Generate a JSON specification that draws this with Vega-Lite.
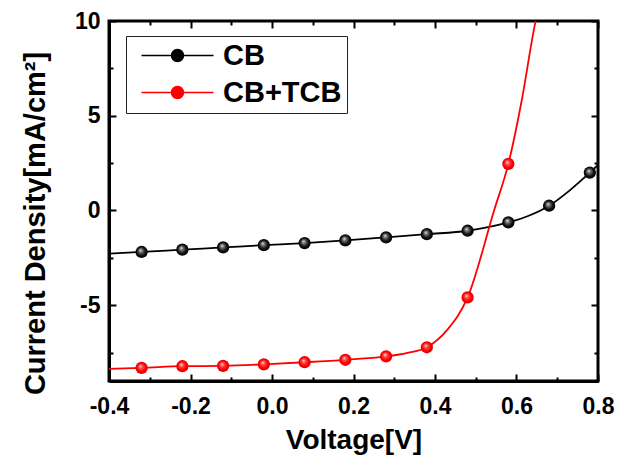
{
  "$schema": "https://vega.github.io/schema/vega-lite/v6.json",
  "width": 489,
  "height": 360,
  "autosize": {"type": "none"},
  "padding": {"left": 109, "top": 21, "right": 19, "bottom": 74},
  "background": "white",
  "config": {
    "view": {"stroke": "black", "strokeWidth": 3},
    "font": "Liberation Sans",
    "axis": {
      "domainColor": "black",
      "domainWidth": 3,
      "ticks": false,
      "gridColor": "#000000",
      "gridOpacity": 1,
      "gridWidth": 2,
      "labelFont": "Liberation Sans",
      "labelFontWeight": "bold",
      "labelFontSize": 23,
      "labelColor": "black",
      "labelFlush": false,
      "labelOverlap": false,
      "labelBound": false,
      "titleFont": "Liberation Sans",
      "titleFontWeight": "bold",
      "titleColor": "black"
    }
  },
  "datasets": {
    "markers": [
      {"voltage": -0.32, "current": -2.19, "series": "CB"},
      {"voltage": -0.22, "current": -2.07, "series": "CB"},
      {"voltage": -0.12, "current": -1.95, "series": "CB"},
      {"voltage": -0.02, "current": -1.83, "series": "CB"},
      {"voltage": 0.08, "current": -1.72, "series": "CB"},
      {"voltage": 0.18, "current": -1.58, "series": "CB"},
      {"voltage": 0.28, "current": -1.42, "series": "CB"},
      {"voltage": 0.38, "current": -1.25, "series": "CB"},
      {"voltage": 0.48, "current": -1.07, "series": "CB"},
      {"voltage": 0.58, "current": -0.63, "series": "CB"},
      {"voltage": 0.68, "current": 0.25, "series": "CB"},
      {"voltage": 0.78, "current": 2.0, "series": "CB"},
      {"voltage": -0.32, "current": -8.31, "series": "CB+TCB"},
      {"voltage": -0.22, "current": -8.22, "series": "CB+TCB"},
      {"voltage": -0.12, "current": -8.2, "series": "CB+TCB"},
      {"voltage": -0.02, "current": -8.12, "series": "CB+TCB"},
      {"voltage": 0.08, "current": -8.01, "series": "CB+TCB"},
      {"voltage": 0.18, "current": -7.88, "series": "CB+TCB"},
      {"voltage": 0.28, "current": -7.7, "series": "CB+TCB"},
      {"voltage": 0.38, "current": -7.22, "series": "CB+TCB"},
      {"voltage": 0.48, "current": -4.59, "series": "CB+TCB"},
      {"voltage": 0.58, "current": 2.46, "series": "CB+TCB"}
    ],
    "curve": [
      {"voltage": -0.4, "current": -2.28, "series": "CB"},
      {"voltage": -0.32, "current": -2.19, "series": "CB"},
      {"voltage": -0.22, "current": -2.07, "series": "CB"},
      {"voltage": -0.12, "current": -1.95, "series": "CB"},
      {"voltage": -0.02, "current": -1.83, "series": "CB"},
      {"voltage": 0.08, "current": -1.72, "series": "CB"},
      {"voltage": 0.18, "current": -1.58, "series": "CB"},
      {"voltage": 0.28, "current": -1.42, "series": "CB"},
      {"voltage": 0.38, "current": -1.25, "series": "CB"},
      {"voltage": 0.48, "current": -1.07, "series": "CB"},
      {"voltage": 0.53, "current": -0.88, "series": "CB"},
      {"voltage": 0.58, "current": -0.63, "series": "CB"},
      {"voltage": 0.63, "current": -0.28, "series": "CB"},
      {"voltage": 0.68, "current": 0.25, "series": "CB"},
      {"voltage": 0.73, "current": 1.05, "series": "CB"},
      {"voltage": 0.78, "current": 2.0, "series": "CB"},
      {"voltage": 0.8, "current": 2.4, "series": "CB"},
      {"voltage": -0.4, "current": -8.36, "series": "CB+TCB"},
      {"voltage": -0.32, "current": -8.31, "series": "CB+TCB"},
      {"voltage": -0.22, "current": -8.22, "series": "CB+TCB"},
      {"voltage": -0.12, "current": -8.2, "series": "CB+TCB"},
      {"voltage": -0.02, "current": -8.12, "series": "CB+TCB"},
      {"voltage": 0.08, "current": -8.01, "series": "CB+TCB"},
      {"voltage": 0.18, "current": -7.88, "series": "CB+TCB"},
      {"voltage": 0.28, "current": -7.7, "series": "CB+TCB"},
      {"voltage": 0.33, "current": -7.53, "series": "CB+TCB"},
      {"voltage": 0.38, "current": -7.22, "series": "CB+TCB"},
      {"voltage": 0.43, "current": -6.3, "series": "CB+TCB"},
      {"voltage": 0.48, "current": -4.59, "series": "CB+TCB"},
      {"voltage": 0.545, "current": 0.0, "series": "CB+TCB"},
      {"voltage": 0.58, "current": 2.46, "series": "CB+TCB"},
      {"voltage": 0.613, "current": 5.83, "series": "CB+TCB"},
      {"voltage": 0.641, "current": 9.35, "series": "CB+TCB"},
      {"voltage": 0.66, "current": 11.4, "series": "CB+TCB"}
    ]
  },
  "layer": [
    {
      "encoding": {
        "x": {
          "field": "voltage",
          "type": "quantitative",
          "scale": {"domain": [-0.4, 0.8], "nice": false, "zero": false},
          "axis": {
            "orient": "bottom",
            "title": "Voltage[V]",
            "titleFontSize": 28,
            "values": [-0.4, -0.2, 0, 0.2, 0.4, 0.6, 0.8],
            "labelExpr": "replace(format(datum.value, '.1f'), '\u2212', '-')",
            "grid": true,
            "gridDash": [7, 346],
            "labelPadding": 14,
            "titlePadding": 8
          }
        },
        "y": {
          "field": "current",
          "type": "quantitative",
          "scale": {"domain": [-9, 10], "nice": false, "zero": false},
          "axis": {
            "orient": "left",
            "title": "Current Density[mA/cm²]",
            "titleFontSize": 29,
            "titleY": 202,
            "values": [-5, 0, 5, 10],
            "labelExpr": "replace(format(datum.value, 'd'), '\u2212', '-')",
            "grid": true,
            "gridDash": [7, 475],
            "labelPadding": 9,
            "titlePadding": 24
          }
        }
      },
      "layer": [
        {
          "mark": {"type": "rule", "color": "black", "strokeWidth": 3},
          "encoding": {"y": {"datum": 0}, "x": null}
        },
        {
          "mark": {"type": "rule", "color": "black", "strokeWidth": 2.5},
          "encoding": {"x": {"datum": 0}, "y": null}
        },
        {
          "data": {"name": "curve"},
          "mark": {"type": "line", "interpolate": "monotone", "strokeWidth": 1.8, "clip": true},
          "encoding": {
            "color": {
              "field": "series",
              "type": "nominal",
              "scale": {"domain": ["CB", "CB+TCB"], "range": ["#000000", "#ff0000"]},
              "legend": {
                "orient": "none",
                "legendX": 17,
                "legendY": 15,
                "title": null,
                "symbolType": "M-3,0H-0.5M0.5,0H3M-0.5,0A0.5,0.5 0 1,0 0.5,0A0.5,0.5 0 1,0 -0.5,0Z",
                "symbolSize": 576,
                "symbolOffset": 32,
                "symbolStrokeWidth": 1.5,
                "labelFont": "Liberation Sans",
                "labelFontWeight": "bold",
                "labelFontSize": 29,
                "labelColor": "black",
                "labelOffset": 31,
                "padding": 5,
                "rowPadding": 7,
                "strokeColor": "#222222",
                "fillColor": "white",
                "encode": {
                  "symbols": {
                    "update": {
                      "fill": {"scale": "color", "field": "value"},
                      "stroke": {"scale": "color", "field": "value"},
                      "strokeWidth": {"value": 1.5}
                    }
                  }
                }
              }
            }
          }
        },
        {
          "data": {"name": "markers"},
          "transform": [{"filter": "datum.series == 'CB'"}],
          "mark": {
            "type": "point",
            "filled": true,
            "size": 150,
            "opacity": 1,
            "fill": {
              "gradient": "radial",
              "x1": 0.4, "y1": 0.35, "r1": 0,
              "x2": 0.5, "y2": 0.5, "r2": 0.5,
              "stops": [
                {"offset": 0, "color": "#e8e8e8"},
                {"offset": 0.3, "color": "#707070"},
                {"offset": 0.7, "color": "#101010"},
                {"offset": 1, "color": "#000000"}
              ]
            }
          }
        },
        {
          "data": {"name": "markers"},
          "transform": [{"filter": "datum.series == 'CB+TCB'"}],
          "mark": {
            "type": "point",
            "filled": true,
            "size": 150,
            "opacity": 1,
            "fill": {
              "gradient": "radial",
              "x1": 0.4, "y1": 0.35, "r1": 0,
              "x2": 0.5, "y2": 0.5, "r2": 0.5,
              "stops": [
                {"offset": 0, "color": "#ffe8e8"},
                {"offset": 0.3, "color": "#ff5050"},
                {"offset": 0.7, "color": "#ff0000"},
                {"offset": 1, "color": "#e00000"}
              ]
            }
          }
        }
      ]
    },
    {
      "data": {"name": "markers"},
      "mark": {"type": "point", "opacity": 0},
      "encoding": {
        "x": {
          "field": "voltage",
          "type": "quantitative",
          "scale": {"domain": [-0.4, 0.8], "nice": false, "zero": false},
          "axis": {
            "orient": "top",
            "title": null,
            "labels": false,
            "domain": false,
            "grid": true,
            "gridDash": [4, 352],
            "values": [-0.3, -0.1, 0.1, 0.3, 0.5, 0.7]
          }
        },
        "y": {
          "field": "current",
          "type": "quantitative",
          "scale": {"domain": [-9, 10], "nice": false, "zero": false},
          "axis": {
            "orient": "right",
            "title": null,
            "labels": false,
            "domain": false,
            "grid": true,
            "gridDash": [4, 481],
            "values": [-7.5, -2.5, 2.5, 7.5]
          }
        }
      }
    }
  ],
  "resolve": {"scale": {"x": "independent", "y": "independent"}, "axis": {"x": "independent", "y": "independent"}}
}
